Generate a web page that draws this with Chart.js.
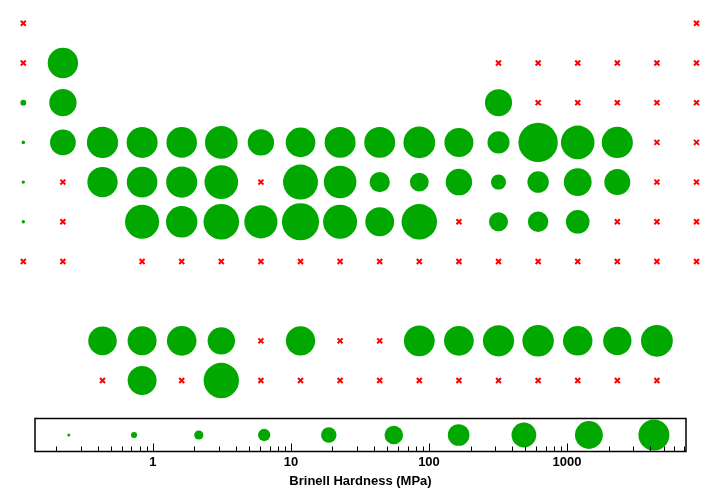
<!DOCTYPE html>
<html>
<head>
<meta charset="utf-8">
<script src="https://cdn.jsdelivr.net/npm/chart.js@4.4.1/dist/chart.umd.min.js"></script>
<style>
  body { margin: 0; background: #fff; }
  canvas { display: block; }
</style>
</head>
<body>
<canvas id="table-chart" width="720" height="400"></canvas>
<canvas id="legend-chart" width="720" height="92"></canvas>
<script>
// Brinell hardness (MPa) laid out like the periodic table.
// X = no value known (red cross), _ = empty cell
const X = null, _ = undefined;

const period1 = [X,_,_,_,_,_,_,_,_,_,_,_,_,_,_,_,_,X];
const period2 = [X,600,_,_,_,_,_,_,_,_,_,_,X,X,X,X,X,X];
const period3 = [0.69,260,_,_,_,_,_,_,_,_,_,_,245,X,X,X,X,X];
const period4 = [0.363,167,750,716,628,1120,196,490,700,700,874,412,60,7273,1440,736,X,X];
const period5 = [0.216,X,589,650,736,1500,X,2160,1100,37.3,24.5,203,8.83,51,294,180,X,X];
const period6 = [0.14,X,_,1700,800,2570,1320,3920,1670,392,2450,X,26.4,38.3,94.2,X,X,X];
const period7 = [X,X,_,X,X,X,X,X,X,X,X,X,X,X,X,X,X,X];
const lanthanides = [_,_,363,412,481,265,X,441,X,X,677,500,746,814,471,343,893,_];
const actinides = [_,_,X,400,X,2400,X,X,X,X,X,X,X,X,X,X,X,_];

// row number on the grid for each line of the table (row 8 is the gap)
const tableRows = [
    [1, period1], [2, period2], [3, period3], [4, period4], [5, period5],
    [6, period6], [7, period7], [9, lanthanides], [10, actinides]
];

// legend scale
const hardnessMin = 0.14, hardnessMax = 7273;
const legendValues = [0.246, 0.73, 2.15, 6.4, 18.8, 55.6, 164, 487, 1440, 4260];
const axisLabels = [1, 10, 100, 1000];

const green = 'rgb(0,168,0)';
const red = 'rgb(255,0,0)';
const fontFamily = '"Liberation Sans", Arial, Helvetica, sans-serif';

function tableRadius(v) {
    return Math.max(1.7, 3.6 + 4.17 * Math.log10(v));
}
function legendRadius(v) {
    return 1.5 + 3.3 * Math.log10(v / legendValues[0]);
}

let found = [], missing = [];
for (let [row, values] of tableRows) {
    values.forEach((v, i) => {
        if (v === undefined) return;
        if (v === null) missing.push({x: i + 1, y: row});
        else found.push({x: i + 1, y: row, r: tableRadius(v)});
    });
}

const tableConfig = {
    type: 'bubble',
    data: {
        datasets: [
            {
                data: found,
                backgroundColor: green,
                borderWidth: 0,
            },
            {
                type: 'scatter',
                data: missing,
                pointStyle: 'crossRot',
                radius: 3.5,
                borderWidth: 2,
                borderColor: red,
            }
        ]
    },
    options: {
        responsive: false,
        animation: false,
        devicePixelRatio: 1,
        layout: { padding: 0, autoPadding: false },
        plugins: { legend: { display: false }, tooltip: { enabled: false } },
        scales: {
            x: { type: 'linear', display: false, min: 0.4116, max: 18.593 },
            y: { type: 'linear', display: false, reverse: true, min: 0.413, max: 10.49 }
        }
    }
};
new Chart(document.getElementById('table-chart'), tableConfig);

// frame and inward tick marks of the legend axis
const frameTicks = {
    id: 'frameTicks',
    afterDraw(chart) {
        const ctx = chart.ctx, a = chart.chartArea, xs = chart.scales.x;
        ctx.save();
        ctx.strokeStyle = '#000';
        ctx.lineWidth = 1;
        for (let dec = 0.1; dec < hardnessMax; dec *= 10) {
            for (let m = 1; m < 10; m++) {
                const v = dec * m;
                if (v < hardnessMin || v > hardnessMax) continue;
                const px = Math.round(xs.getPixelForValue(v)) + 0.5;
                const len = m === 1 ? 8 : 5;
                ctx.beginPath();
                ctx.moveTo(px, a.bottom);
                ctx.lineTo(px, a.bottom - len);
                ctx.stroke();
            }
        }
        ctx.lineWidth = 1.5;
        ctx.strokeRect(a.left, a.top, a.right - a.left, a.bottom - a.top);
        ctx.restore();
    }
};

const legendConfig = {
    type: 'bubble',
    data: {
        datasets: [{
            data: legendValues.map(v => ({x: v, y: 0.5, r: legendRadius(v)})),
            backgroundColor: green,
            borderWidth: 0,
        }]
    },
    options: {
        responsive: false,
        animation: false,
        devicePixelRatio: 1,
        layout: { padding: { left: 35, right: 34, top: 18.5, bottom: 0 }, autoPadding: false },
        plugins: { legend: { display: false }, tooltip: { enabled: false } },
        scales: {
            x: {
                type: 'logarithmic',
                min: hardnessMin,
                max: hardnessMax,
                grid: { display: false, drawTicks: false },
                border: { display: false },
                afterBuildTicks: scale => { scale.ticks = axisLabels.map(v => ({value: v})); },
                afterFit: scale => { scale.height = 40.5; },
                ticks: {
                    color: '#000',
                    padding: 3,
                    maxRotation: 0,
                    autoSkip: false,
                    font: { family: fontFamily, size: 13, weight: 'bold' },
                    callback: v => String(v)
                },
                title: {
                    display: true,
                    text: 'Brinell Hardness (MPa)',
                    color: '#000',
                    padding: 3,
                    font: { family: fontFamily, size: 13, weight: 'bold' }
                }
            },
            y: { display: false, min: 0, max: 1 }
        }
    },
    plugins: [frameTicks]
};
new Chart(document.getElementById('legend-chart'), legendConfig);
</script>
</body>
</html>
